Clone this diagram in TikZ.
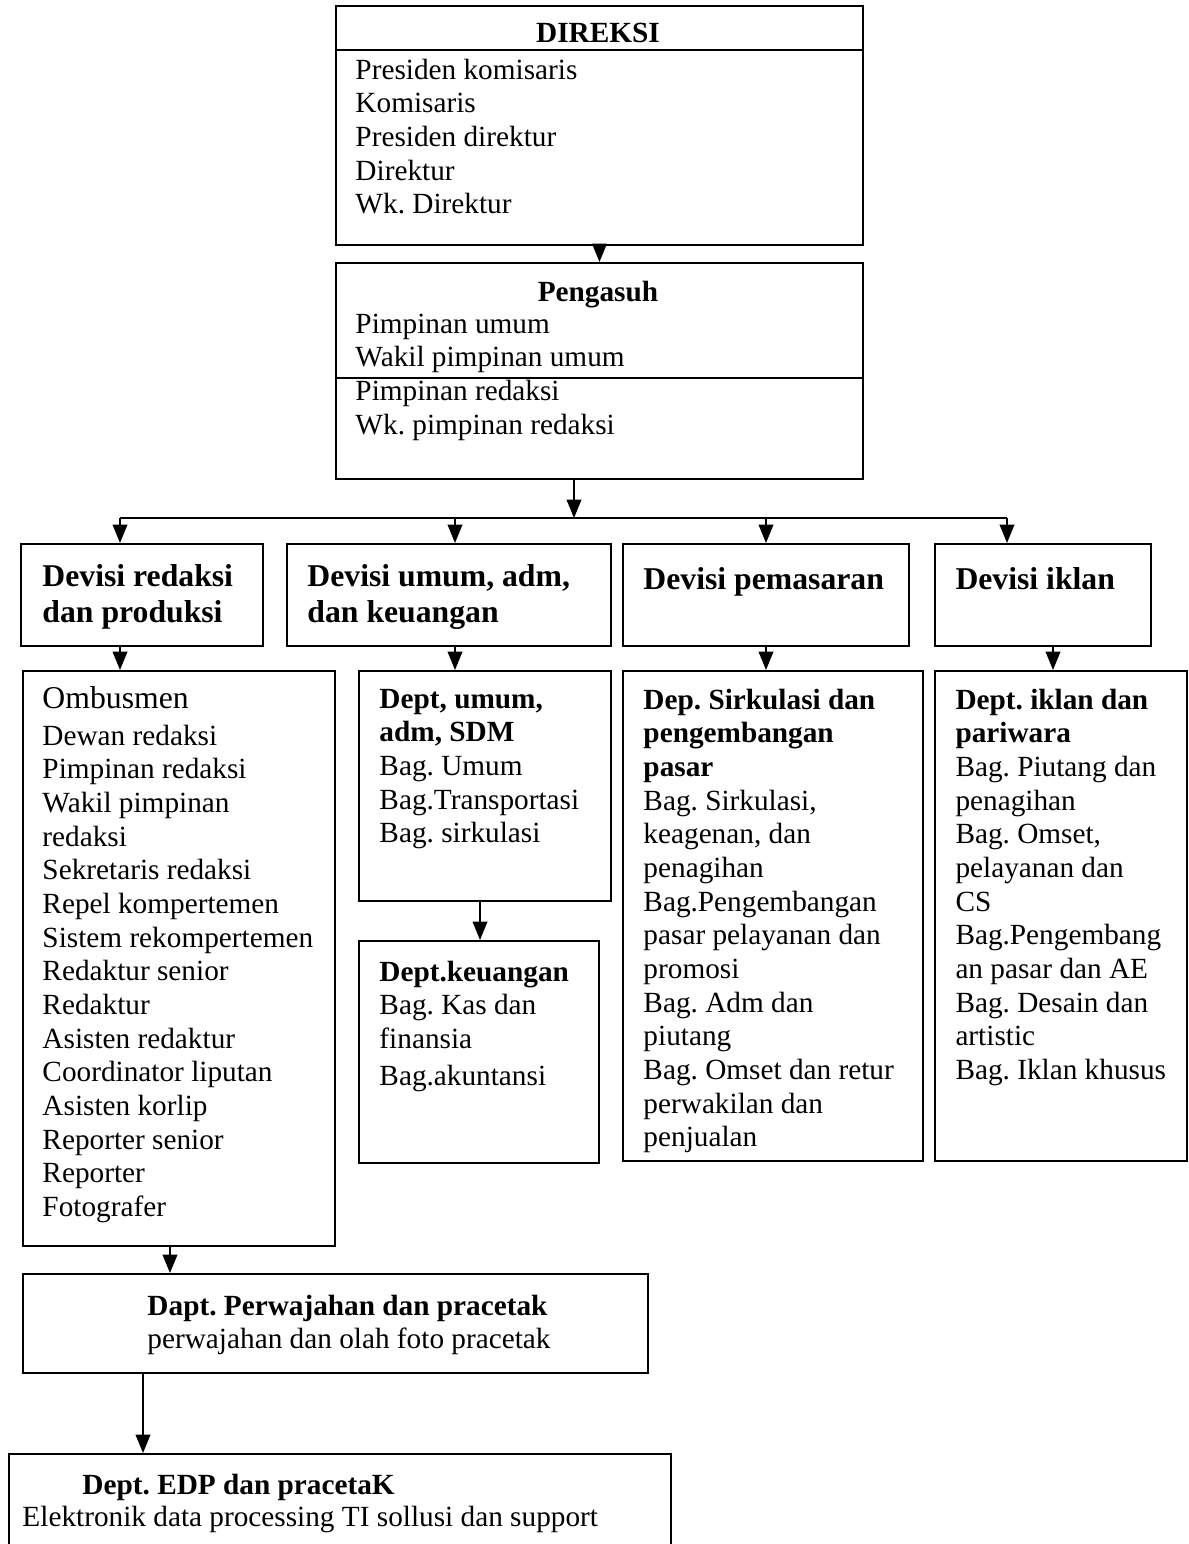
\documentclass[tikz,border=0pt]{standalone}
\usepackage{fontspec}
\setmainfont{Liberation Serif}
\usetikzlibrary{arrows.meta, positioning}
\frenchspacing

\newcommand{\isifont}{\fontsize{12}{13.8}\selectfont}
\newcommand{\judulfont}{\fontsize{13}{14.8}\selectfont\bfseries}

\begin{document}
\begin{tikzpicture}[x=0.41pt, y=-0.41pt,
  kotak/.style 2 args={draw, line width=0.8pt, inner sep=0pt, anchor=north west,
    minimum width=#1*0.41pt, minimum height=#2*0.41pt},
  isi/.style={anchor=north west, inner sep=0pt, align=left, font=\isifont,
    execute at begin node=\strut},
  judul/.style={isi, font=\judulfont},
  baris/.style={inner sep=0pt, font=\isifont},
  panah/.style={-{Triangle[length=7.5pt, width=6pt]}, line width=0.6pt},
  garis/.style={line width=0.8pt}]
  \clip (0,0) rectangle (1189,1544);

  % Direksi
  \node[kotak={527}{239}] (direksi) at (335,5) {};
  \draw[garis] (335,50) -- (862,50);
  \node[baris, anchor=base, font=\isifont\bfseries] (direksijudul) at (598,43) {DIREKSI};
  \node[isi] (direksiisi) at (355,58.4) {Presiden komisaris\\Komisaris\\Presiden direktur\\Direktur\\Wk. Direktur};

  % Pengasuh
  \node[kotak={527}{216}] (pengasuh) at (335,262) {};
  \draw[garis] (335,378) -- (862,378);
  \node[baris, anchor=base, font=\isifont\bfseries] (pengasuhjudul) at (598,301) {Pengasuh};
  \node[isi] (pengasuhisi) at (355,313.4) {Pimpinan umum\\Wakil pimpinan umum\\Pimpinan redaksi\\Wk. pimpinan redaksi};

  % Devisi
  \node[kotak={242}{102}] (dev1) at (20,543) {};
  \node[kotak={324}{102}] (dev2) at (286,543) {};
  \node[kotak={286}{102}] (dev3) at (622,543) {};
  \node[kotak={216}{102}] (dev4) at (934,543) {};
  \node[judul] (dev1teks) at (42,563.7) {Devisi redaksi\\dan produksi};
  \node[judul] (dev2teks) at (307,563.7) {Devisi umum, adm,\\dan keuangan};
  \node[judul] (dev3teks) at (643,563.7) {Devisi pemasaran};
  \node[judul] (dev4teks) at (955,563.7) {Devisi iklan};

  % Departemen
  \node[kotak={312}{575}] (red) at (22,670) {};
  \node[baris, anchor=base west, font=\fontsize{13}{14.8}\selectfont] (ombus) at (42,708) {Ombusmen};
  \node[isi] (redisi) at (42,724.4) {Dewan redaksi\\Pimpinan redaksi\\Wakil pimpinan\\redaksi\\Sekretaris redaksi\\Repel kompertemen\\Sistem rekompertemen\\Redaktur senior\\Redaktur\\Asisten redaktur\\Coordinator liputan\\Asisten korlip\\Reporter senior\\Reporter\\Fotografer};

  \node[kotak={252}{230}] (umum) at (358,670) {};
  \node[isi] (umumisi) at (379,688.4) {\textbf{Dept, umum,}\\\textbf{adm, SDM}\\Bag. Umum\\Bag.Transportasi\\Bag. sirkulasi};

  \node[kotak={240}{222}] (keu) at (358,940) {};
  \node[isi] (keuisi) at (379,960.4) {\textbf{Dept.keuangan}\\Bag. Kas dan\\finansia\\[1.5pt]Bag.akuntansi};

  \node[kotak={300}{490}] (sirk) at (622,670) {};
  \node[isi] (sirkisi) at (643,688.4) {\textbf{Dep. Sirkulasi dan}\\\textbf{pengembangan}\\\textbf{pasar}\\Bag. Sirkulasi,\\keagenan, dan\\penagihan\\Bag.Pengembangan\\pasar pelayanan dan\\promosi\\Bag. Adm dan\\piutang\\Bag. Omset dan retur\\perwakilan dan\\penjualan};

  \node[kotak={252}{490}] (iklan) at (934,670) {};
  \node[isi] (iklanisi) at (955,688.4) {\textbf{Dept. iklan dan}\\\textbf{pariwara}\\Bag. Piutang dan\\penagihan\\Bag. Omset,\\pelayanan dan\\CS\\Bag.Pengembang\\an pasar dan AE\\Bag. Desain dan\\artistic\\Bag. Iklan khusus};

  % Pracetak
  \node[kotak={625}{99}] (rupa) at (22,1273) {};
  \node[isi] (rupaisi) at (147,1294.4) {\textbf{Dapt. Perwajahan dan pracetak}\\perwajahan dan olah foto pracetak};

  \node[kotak={662}{120}] (edp) at (8,1453) {};
  \node[baris, anchor=base west, font=\isifont\bfseries] (edpjudul) at (82,1494) {Dept. EDP dan pracetaK};
  \node[baris, anchor=base west] (edpisi) at (22,1526) {Elektronik data processing TI sollusi dan support};

  % Panah
  \coordinate (bus) at (574,518);
  \coordinate (b1) at (120,518);
  \coordinate (b2) at (455,518);
  \coordinate (b3) at (766,518);
  \coordinate (b4) at (1007,518);
  \coordinate (k4) at (1053,0);
  \coordinate (k5) at (480,0);
  \coordinate (k6) at (170,0);
  \coordinate (k7) at (143,0);

  \draw[panah] (direksi.south) -- (pengasuh.north);
  \draw[panah] (bus |- pengasuh.south) -- (bus);
  \draw[garis] (b1) -- (b4);
  \foreach \i in {1,...,4}
    \draw[panah] (b\i) -- (b\i |- dev\i.north);
  \draw[panah] (dev1.south -| b1) -- (red.north -| b1);
  \draw[panah] (dev2.south -| b2) -- (umum.north -| b2);
  \draw[panah] (dev3.south -| b3) -- (sirk.north -| b3);
  \draw[panah] (dev4.south -| k4) -- (iklan.north -| k4);
  \draw[panah] (umum.south -| k5) -- (keu.north -| k5);
  \draw[panah] (red.south -| k6) -- (rupa.north -| k6);
  \draw[panah] (rupa.south -| k7) -- (edp.north -| k7);
\end{tikzpicture}
\end{document}
